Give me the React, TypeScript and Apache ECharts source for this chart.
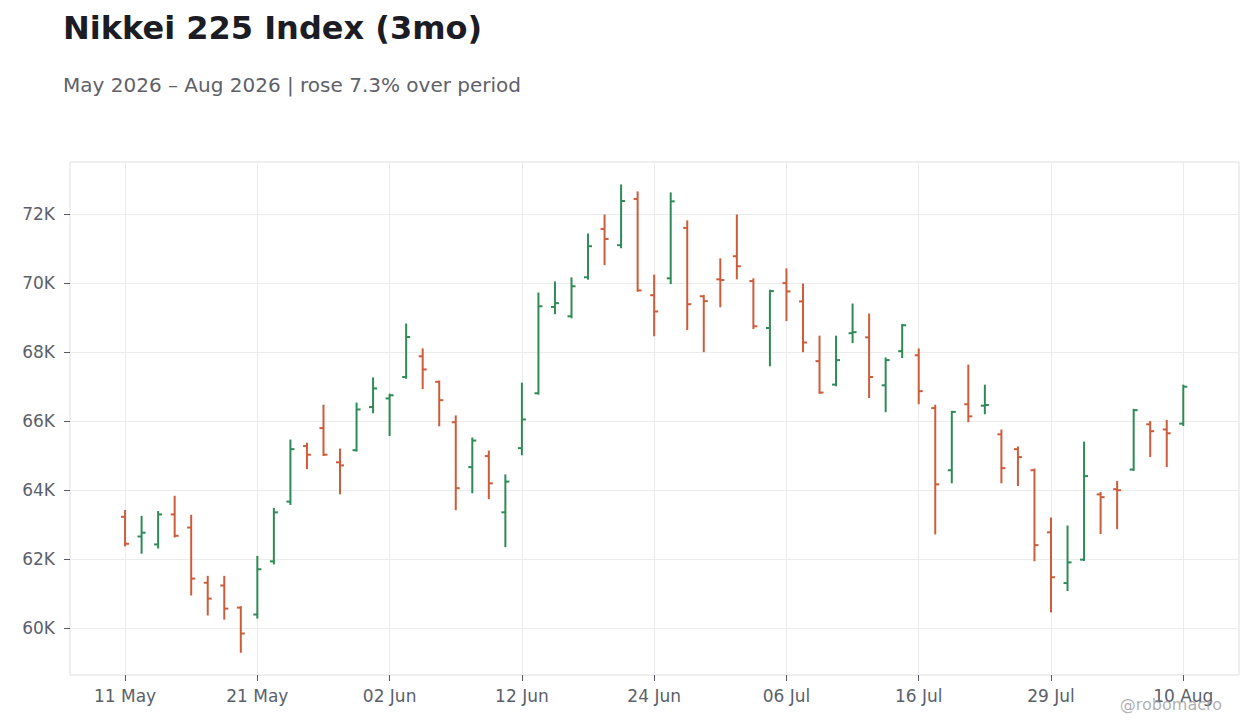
import React, { useEffect, useRef } from "react";
import * as echarts from "echarts";

const dates = [
  "11 May", "12 May", "13 May", "14 May", "15 May", "18 May", "19 May", "20 May", "21 May", "22 May",
  "25 May", "26 May", "27 May", "28 May", "29 May",
  "01 Jun", "02 Jun", "03 Jun", "04 Jun", "05 Jun", "08 Jun", "09 Jun", "10 Jun", "11 Jun", "12 Jun",
  "15 Jun", "16 Jun", "17 Jun", "18 Jun", "19 Jun", "22 Jun", "23 Jun", "24 Jun", "25 Jun", "26 Jun",
  "29 Jun", "30 Jun",
  "01 Jul", "02 Jul", "03 Jul", "06 Jul", "07 Jul", "08 Jul", "09 Jul", "10 Jul", "13 Jul", "14 Jul",
  "15 Jul", "16 Jul", "17 Jul", "21 Jul", "22 Jul", "23 Jul", "24 Jul", "27 Jul", "28 Jul", "29 Jul",
  "30 Jul", "31 Jul",
  "03 Aug", "04 Aug", "05 Aug", "06 Aug", "07 Aug", "10 Aug",
];

const opens = [
  63220, 62650, 62420, 63290, 62910, 61310, 61230, 60590, 60390, 61930,
  63660, 65270, 65790, 64800, 65150, 66400, 66650, 67270, 67870, 67130,
  65960, 64660, 64980, 63350, 65210, 66800, 69300, 69030, 70160, 71560,
  71090, 72430, 69640, 70130, 71590, 69610, 70100, 70770, 70050, 68690,
  69990, 69460, 67730, 67050, 68540, 68420, 67030, 68020, 67900, 66370,
  64570, 66480, 66440, 65610, 65180, 64570, 62770, 61300, 61980, 63870,
  64020, 64590, 65900, 65750, 65920,
];
const highs = [
  63390, 63220, 63360, 63800, 63250, 61480, 61480, 60600, 62060, 63450,
  65430, 65340, 66440, 65170, 66500, 67230, 66760, 68790, 68070, 67140,
  66130, 65490, 65110, 64420, 67080, 69690, 70010, 70130, 71400, 71950,
  72820, 72620, 70210, 72590, 71780, 69620, 70680, 71950, 70100, 69770,
  70390, 69950, 68440, 68440, 69370, 69080, 67810, 68780, 68070, 66440,
  66260, 67600, 67020, 65720, 65230, 64590, 63170, 62940, 65370, 63910,
  64230, 66320, 65970, 66000, 67020,
];
const lows = [
  62390, 62180, 62330, 62650, 60970, 60390, 60270, 59310, 60300, 61870,
  63590, 64630, 65010, 63900, 65140, 66250, 65590, 67250, 66950, 65870,
  63440, 63930, 63760, 62370, 65030, 66790, 69120, 69000, 70120, 70540,
  71030, 69770, 68480, 69990, 68660, 68020, 69320, 70130, 68690, 67610,
  68920, 68020, 66810, 67030, 68280, 66690, 66280, 67850, 66510, 62740,
  64220, 65990, 66220, 64220, 64140, 61960, 60480, 61100, 61970, 62750,
  62890, 64580, 64980, 64690, 65880,
];
const closes = [
  62440, 62760, 63290, 62670, 61430, 60850, 60560, 59840, 61700, 63350,
  65180, 65020, 65020, 64710, 66330, 66940, 66740, 68430, 67490, 66600,
  64050, 65430, 64190, 64240, 66040, 69320, 69410, 69900, 71060, 71270,
  72370, 69780, 69170, 72360, 69380, 69470, 70080, 70480, 68740, 69760,
  69750, 68270, 66820, 67760, 68570, 67270, 67760, 68770, 66860, 64160,
  66260, 66130, 66460, 64630, 64950, 62400, 61470, 61900, 64400, 63790,
  63990, 66310, 65700, 65640, 66990,
];

const xTickIdx = [0, 8, 16, 24, 32, 40, 48, 56, 64];
const yTicks = [60000, 62000, 64000, 66000, 68000, 70000, 72000];

const GREEN = "#2e8b57";
const RED = "#cd5c3a";
const FONT = "DejaVu Sans";
const LABEL = "#5b5f6a";

export default function App() {
  const ref = useRef<HTMLDivElement>(null);
  useEffect(() => {
    const chart = echarts.init(ref.current as HTMLDivElement, null, { renderer: "svg" });
    const data = dates.map((_, i) => [i, opens[i], highs[i], lows[i], closes[i]]);
    chart.setOption({
      animation: false,
      backgroundColor: "#ffffff",
      title: [
        {
          text: "Nikkei 225 Index (3mo)",
          left: 58,
          top: 7,
          textStyle: { fontFamily: FONT, fontSize: 32, fontWeight: "bold", color: "#1c1c24" },
        },
        {
          text: "May 2026 – Aug 2026 | rose 7.3% over period",
          left: 58,
          top: 70,
          textStyle: { fontFamily: FONT, fontSize: 20, fontWeight: "normal", color: "#5f6169" },
        },
      ],
      grid: {
        left: 70,
        right: 21,
        top: 162,
        bottom: 53,
        show: true,
        borderColor: "#dedede",
        borderWidth: 1,
        backgroundColor: "transparent",
      },
      xAxis: {
        type: "value",
        min: -3.33,
        max: 67.37,
        axisLine: { show: false, onZero: false },
        axisTick: {
          show: true,
          customValues: xTickIdx,
          length: 6,
          lineStyle: { color: "#555a66", width: 1 },
        },
        axisLabel: {
          customValues: xTickIdx,
          formatter: (v: number) => dates[Math.round(v)] ?? "",
          fontFamily: FONT,
          fontSize: 17,
          color: LABEL,
          margin: 12,
        },
        splitLine: { show: true, lineStyle: { color: "#ececec", width: 1 } },
      },
      yAxis: {
        type: "value",
        min: 58637,
        max: 73500,
        axisLine: { show: false, onZero: false },
        axisTick: {
          show: true,
          customValues: yTicks,
          length: 6,
          lineStyle: { color: "#555a66", width: 1 },
        },
        axisLabel: {
          customValues: yTicks,
          formatter: (v: number) => `${Math.round(v / 1000)}K`,
          fontFamily: FONT,
          fontSize: 17,
          color: LABEL,
          margin: 15,
        },
        splitLine: { show: true, lineStyle: { color: "#ececec", width: 1 } },
      },
      series: [
        {
          type: "custom",
          data,
          encode: { x: 0, y: [1, 2, 3, 4] },
          renderItem: (_params: any, api: any) => {
            const i = api.value(0);
            const o = api.value(1);
            const c = api.value(4);
            const pO = api.coord([i, o]);
            const pH = api.coord([i, api.value(2)]);
            const pL = api.coord([i, api.value(3)]);
            const pC = api.coord([i, c]);
            const color = c >= o ? GREEN : RED;
            const x = pH[0];
            const st = { stroke: color, lineWidth: 2 };
            return {
              type: "group",
              children: [
                { type: "line", shape: { x1: x, y1: pH[1] - 1, x2: x, y2: pL[1] + 1 }, style: st },
                { type: "line", shape: { x1: x - 4, y1: pO[1], x2: x, y2: pO[1] }, style: st },
                { type: "line", shape: { x1: x, y1: pC[1], x2: x + 4, y2: pC[1] }, style: st },
              ],
            };
          },
        },
      ],
      graphic: [
        {
          type: "text",
          right: 38,
          top: 696,
          z: 100,
          style: {
            text: "@robomacro",
            fontFamily: FONT,
            fontSize: 16,
            fill: "rgba(150,150,155,0.75)",
          },
        },
      ],
    });
    return () => chart.dispose();
  }, []);
  return (
    <div
      ref={ref}
      style={{ position: "fixed", left: 0, top: 0, width: 1260, height: 728, background: "#fff" }}
    />
  );
}
